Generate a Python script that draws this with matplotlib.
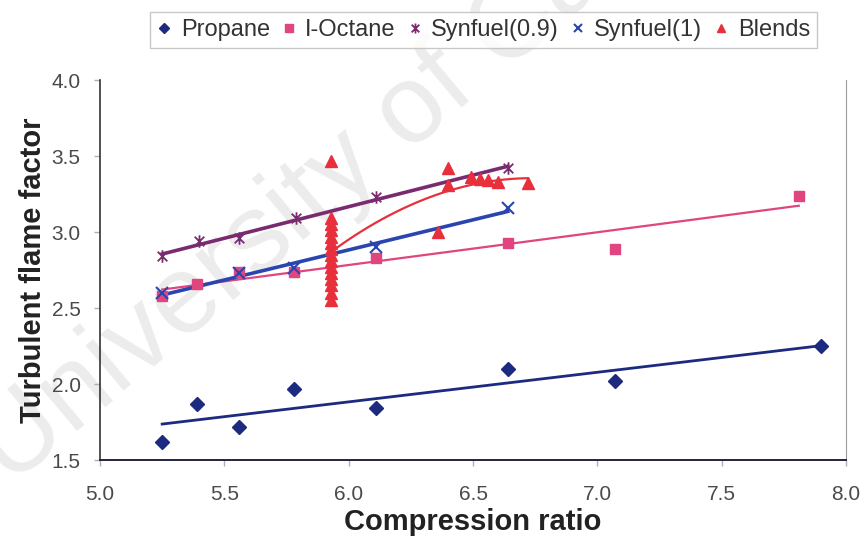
import numpy as np
import matplotlib
matplotlib.use("Agg")
import matplotlib.pyplot as plt
from matplotlib.path import Path

plt.rcParams['font.family'] = ['Liberation Sans', 'DejaVu Sans']

# ---- data: compression ratio vs turbulent flame factor ----
propane_x = [5.25, 5.39, 5.56, 5.78, 6.11, 6.64, 7.07, 7.90]
propane_y = [1.62, 1.87, 1.72, 1.97, 1.84, 2.10, 2.02, 2.25]

octane_x = [5.25, 5.39, 5.56, 5.78, 6.11, 6.64, 7.07, 7.81]
octane_y = [2.58, 2.66, 2.74, 2.74, 2.83, 2.93, 2.89, 3.24]

syn09_x = [5.25, 5.40, 5.56, 5.79, 6.11, 6.64]
syn09_y = [2.84, 2.94, 2.96, 3.09, 3.23, 3.42]

syn1_x = [5.25, 5.56, 5.78, 6.11, 6.64]
syn1_y = [2.60, 2.73, 2.76, 2.90, 3.16]

blend_x = [5.93] * 15 + [6.36, 6.40, 6.40, 6.49, 6.53, 6.56, 6.60, 6.72]
blend_y = [3.47, 3.09, 3.05, 3.01, 2.97, 2.93, 2.89, 2.85, 2.81, 2.77,
           2.73, 2.69, 2.65, 2.60, 2.55,
           3.00, 3.42, 3.31, 3.36, 3.35, 3.34, 3.33, 3.32]

labels = ["Propane", "I-Octane", "Synfuel(0.9)", "Synfuel(1)", "Blends"]
x_ticks = [5.0, 5.5, 6.0, 6.5, 7.0, 7.5, 8.0]
y_ticks = [1.5, 2.0, 2.5, 3.0, 3.5, 4.0]

# Excel-style star marker: an x with a vertical bar through it
star = Path([(-1, -1), (1, 1), (-1, 1), (1, -1), (0, -1.3), (0, 1.3)],
            [Path.MOVETO, Path.LINETO, Path.MOVETO, Path.LINETO,
             Path.MOVETO, Path.LINETO])

fig = plt.figure(figsize=(8.65, 5.42), dpi=100)
ax = fig.add_axes([100 / 865, 1 - 460 / 542, 746 / 865, 380 / 542])
ax.set_facecolor('none')

# faint watermark behind everything
fig.text(0.012, 0.10, "University of Canterbury", fontsize=80,
         color='#ececec', rotation=40, rotation_mode='anchor',
         ha='left', va='baseline', zorder=-5)


def trend(x, y, deg, color, lw):
    c = np.polyfit(x, y, deg)
    xs = np.linspace(min(x), max(x), 100)
    ax.plot(xs, np.polyval(c, xs), color=color, lw=lw, zorder=2)


c_prop = '#1c2a80'
c_oct = '#e0457f'
c_s09 = '#7a2b70'
c_s1 = '#2a45b0'
c_bl = '#e8303c'

trend(propane_x, propane_y, 1, c_prop, 2.0)
trend(octane_x, octane_y, 1, c_oct, 1.6)
trend(syn09_x, syn09_y, 1, c_s09, 2.6)
trend(syn1_x, syn1_y, 1, c_s1, 2.6)
trend(blend_x, blend_y, 2, c_bl, 1.6)

ax.plot(propane_x, propane_y, ls='none', marker='D', ms=7, color=c_prop,
        label=labels[0], zorder=3)
ax.plot(octane_x, octane_y, ls='none', marker='s', ms=7, color=c_oct,
        label=labels[1], zorder=3)
ax.plot(syn09_x, syn09_y, ls='none', marker=star, ms=9, mew=1.3,
        color=c_s09, label=labels[2], zorder=3)
ax.plot(syn1_x, syn1_y, ls='none', marker='x', ms=8, mew=1.5, color=c_s1,
        label=labels[3], zorder=3)
ax.plot(blend_x, blend_y, ls='none', marker='^', ms=8, color=c_bl,
        label=labels[4], zorder=4)

ax.set_xlim(5.0, 8.0)
ax.set_ylim(1.5, 4.0)
ax.set_xticks(x_ticks)
ax.set_xticklabels([f"{v:.1f}" for v in x_ticks])
ax.set_yticks(y_ticks)
ax.set_yticklabels([f"{v:.1f}" for v in y_ticks])
ax.tick_params(axis='both', labelsize=15, labelcolor='#4a4a4a',
               color='#b0b0b0', length=4, width=1, direction='out')
ax.tick_params(axis='x', pad=14)
ax.tick_params(axis='y', pad=10)

ax.spines['top'].set_visible(False)
ax.spines['right'].set_color('#9a9a9a')
ax.spines['left'].set_color('#333333')
ax.spines['bottom'].set_color('#222244')
ax.spines['left'].set_linewidth(1.2)
ax.spines['bottom'].set_linewidth(1.4)

ax.set_xlabel("Compression ratio", fontsize=21, fontweight='bold',
              color='#222222', labelpad=3)
ax.set_ylabel("Turbulent flame factor", fontsize=21, fontweight='bold',
              color='#222222', labelpad=3)

leg = fig.legend(loc='upper left', bbox_to_anchor=(150 / 865, 1 - 12 / 542),
                 ncol=5, fontsize=17, frameon=True, fancybox=False,
                 handlelength=0.6, handletextpad=0.4, columnspacing=0.5,
                 borderpad=0.3, borderaxespad=0, markerscale=0.8)
leg.get_frame().set_edgecolor('#bbbbbb')
leg.get_frame().set_linewidth(1.0)
for t in leg.get_texts():
    t.set_color('#333333')

fig.savefig("out.png", dpi=100)
